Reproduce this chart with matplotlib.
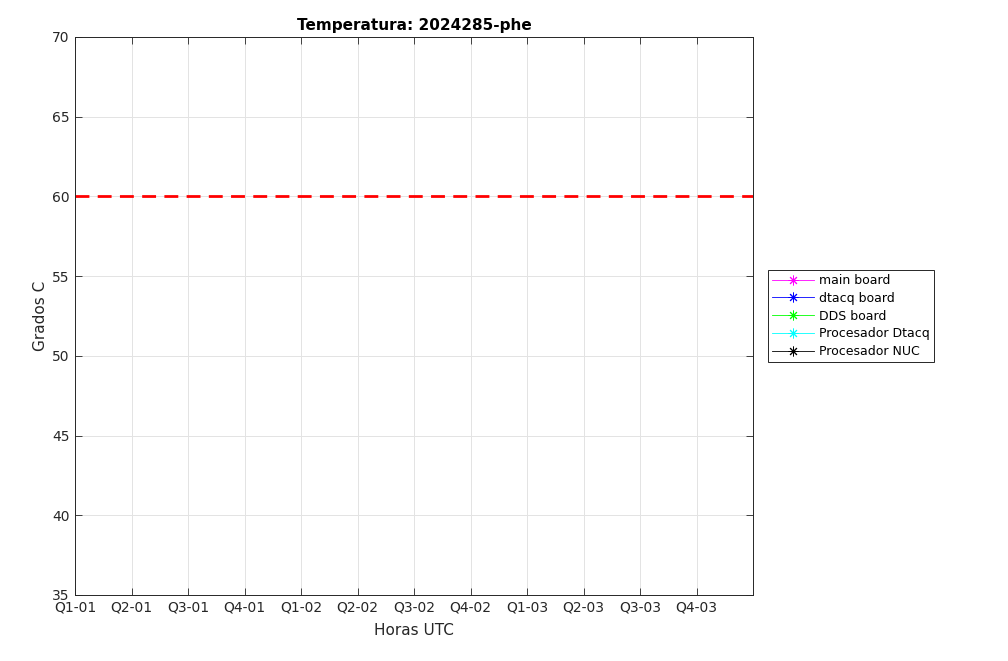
import numpy as np
import matplotlib
matplotlib.use("Agg")
import matplotlib.pyplot as plt

# series shown in the legend (no samples recorded for this day)
series_names = ["main board", "dtacq board", "DDS board", "Procesador Dtacq", "Procesador NUC"]
series_colors = ["#ff00ff", "#0000ff", "#00ff00", "#00ffff", "#000000"]
series_x = [[], [], [], [], []]
series_y = [[], [], [], [], []]

limit_temp = 60
tick_labels = ["Q1-01", "Q2-01", "Q3-01", "Q4-01",
               "Q1-02", "Q2-02", "Q3-02", "Q4-02",
               "Q1-03", "Q2-03", "Q3-03", "Q4-03"]
y_ticks = [35, 40, 45, 50, 55, 60, 65, 70]

fig = plt.figure(figsize=(10.08, 6.61), dpi=100)
ax = fig.add_axes([75/1008, 1-595/661, (753-75)/1008, (595-37)/661])

for name, col, xs, ys in zip(series_names, series_colors, series_x, series_y):
    ax.plot(xs, ys, "-", marker=(8, 2, 0), color=col, lw=0.6, ms=7, mew=0.7, label=name)

ax.axhline(limit_temp, color="r", ls="--", lw=2, dashes=(5, 3))

ax.set_xlim(0, len(tick_labels))
ax.set_ylim(y_ticks[0], y_ticks[-1])
ax.set_xticks(np.arange(len(tick_labels)))
ax.set_xticklabels(tick_labels)
ax.set_yticks(y_ticks)
ax.tick_params(direction="in", top=True, right=True, labelsize=10,
               colors="#262626", length=5, width=0.6, pad=4)
ax.grid(True, color="#e3e3e3", lw=0.7)
ax.set_axisbelow(True)
for sp in ax.spines.values():
    sp.set_color("#262626")
    sp.set_linewidth(0.7)

ax.set_title("Temperatura: 2024285-phe", fontsize=11, fontweight="bold", pad=5)
ax.set_xlabel("Horas UTC", fontsize=11, color="#262626", labelpad=6)
ax.set_ylabel("Grados C", fontsize=11, color="#262626", labelpad=3)

leg = ax.legend(loc="center left", bbox_to_anchor=(768/1008, 1-316/661),
                bbox_transform=fig.transFigure, fontsize=9, fancybox=False,
                framealpha=1, edgecolor="#262626", handlelength=3.3,
                labelspacing=0.38, borderpad=0.35, handletextpad=0.4, borderaxespad=0)
leg.get_frame().set_linewidth(0.7)

fig.savefig("out.png", dpi=100)
